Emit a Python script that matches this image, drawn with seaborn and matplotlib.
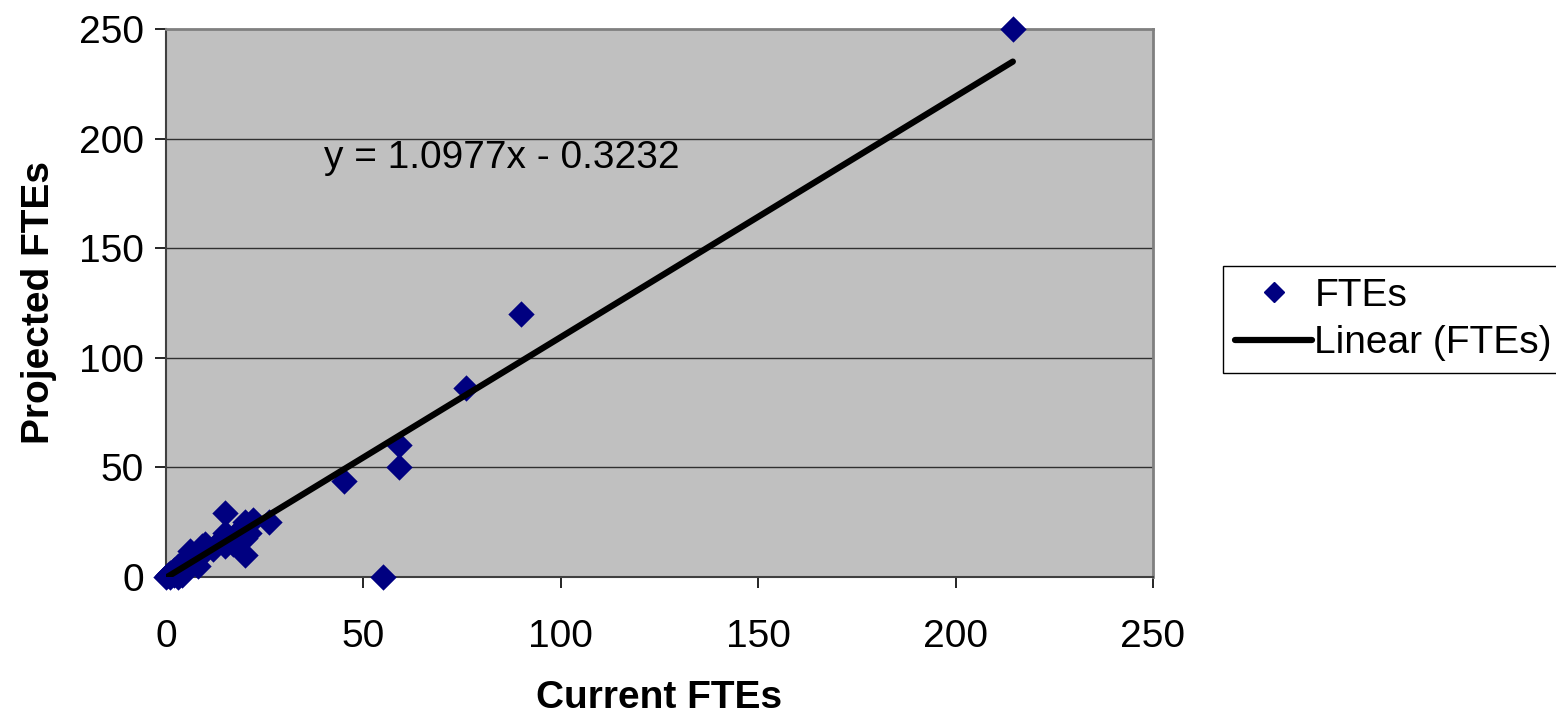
import numpy as np
import pandas as pd
import matplotlib
matplotlib.use("Agg")
import matplotlib.pyplot as plt
from matplotlib.lines import Line2D
import seaborn as sns

# Current vs projected full-time equivalents per unit
current_ftes = [0, 0.5, 1, 1, 2, 2, 3, 3, 3, 4, 4, 5, 5, 6, 6, 7, 8, 8, 9, 10,
                10, 12, 13, 14, 15, 15, 16, 17, 18, 19, 20, 20, 21, 22, 26, 15,
                20, 45, 55, 59, 59, 76, 90, 214.5]
projected_ftes = [0, 1, 2, 0, 3, 1, 5, 0, 2, 4, 1, 6, 8, 10, 12, 8, 5, 10, 14, 12,
                  15, 13, 15, 17, 14, 20, 18, 15, 20, 22, 18, 25, 20, 26, 25, 29,
                  10, 44, 0, 60, 50, 86, 120, 250]

# Linear trendline coefficients
slope = 1.0977
intercept = -0.3232
equation_label = "y = 1.0977x - 0.3232"

x_ticks = [0, 50, 100, 150, 200, 250]
y_ticks = [0, 50, 100, 150, 200, 250]

sns.set_style("white")
plt.rcParams["font.family"] = ["Liberation Sans", "DejaVu Sans"]
plt.rcParams["text.color"] = "black"
plt.rcParams["axes.labelcolor"] = "black"
plt.rcParams["xtick.color"] = "black"
plt.rcParams["ytick.color"] = "black"

FS = 28

df = pd.DataFrame({"Current FTEs": current_ftes, "Projected FTEs": projected_ftes})
trend_x = np.array([min(current_ftes), max(current_ftes)])
trend = pd.DataFrame({"x": trend_x, "y": slope * trend_x + intercept})

fig = plt.figure(figsize=(15.56, 7.26), dpi=100)
ax = fig.add_axes([166 / 1556, 1 - 577 / 726, (1153 - 166) / 1556, (577 - 29) / 726])
ax.set_facecolor("#C0C0C0")

for yv in y_ticks[1:-1]:
    ax.axhline(yv, color="#303030", lw=1.0, zorder=1)

navy = "#000080"
sns.scatterplot(data=df, x="Current FTEs", y="Projected FTEs", marker="D", s=180,
                color=navy, edgecolor=navy, linewidth=0, ax=ax, zorder=3, clip_on=False)
sns.lineplot(data=trend, x="x", y="y", color="black", lw=4.5, ax=ax, zorder=4)

ax.set_xlim(0, 250)
ax.set_ylim(0, 250)
ax.set_xticks(x_ticks)
ax.set_yticks(y_ticks)
ax.tick_params(axis="both", labelsize=FS, direction="out", length=8, width=1.2,
               color="black", bottom=True, left=True)
ax.tick_params(axis="x", pad=22)
ax.tick_params(axis="y", pad=8)

for side in ["top", "right"]:
    ax.spines[side].set_color("#808080")
    ax.spines[side].set_linewidth(2)
for side in ["left", "bottom"]:
    ax.spines[side].set_color("#404040")
    ax.spines[side].set_linewidth(1.5)

ax.set_xlabel("Current FTEs", fontsize=FS, fontweight="bold", labelpad=18)
ax.set_ylabel("Projected FTEs", fontsize=FS, fontweight="bold", labelpad=16)

ax.text(40, 191, equation_label, fontsize=FS, va="center", ha="left")

handles = [
    Line2D([], [], marker="D", color=navy, linestyle="none", markersize=10),
    Line2D([], [], color="black", lw=4.5),
]
leg = fig.legend(handles, ["FTEs", "Linear (FTEs)"], loc="center left",
                 bbox_to_anchor=(1223 / 1556, 1 - 319.5 / 726), fontsize=FS,
                 frameon=True, fancybox=False, edgecolor="black", framealpha=1,
                 handlelength=2.0, handletextpad=0.05, borderpad=0.3,
                 labelspacing=0.3, borderaxespad=0)
leg.get_frame().set_linewidth(1.0)

fig.savefig("out.png", dpi=100)
